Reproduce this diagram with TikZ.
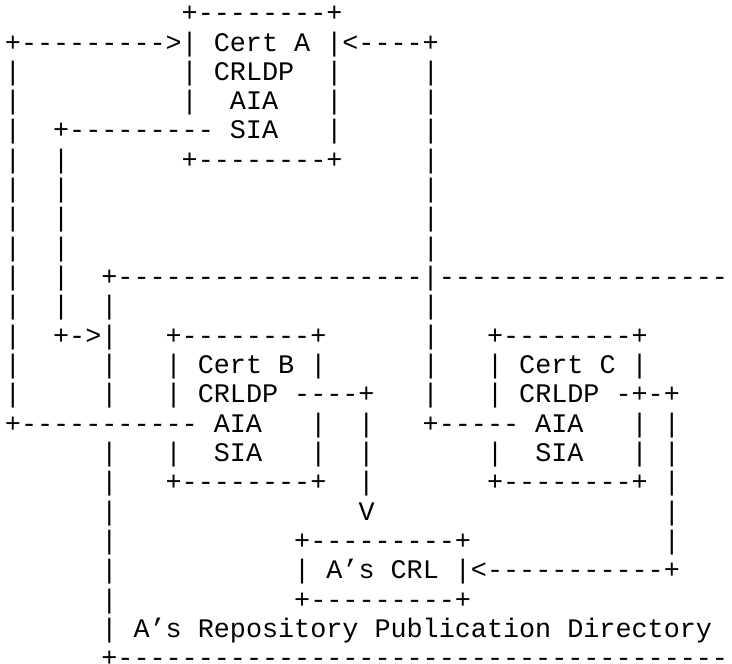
\documentclass[tikz,border=0pt]{standalone}
\usepackage{fontspec}
\setmonofont{Liberation Mono}
\tikzset{asciirow/.style={anchor=base west, inner sep=0pt, outer sep=0pt,
  font=\ttfamily\fontsize{26.78pt}{29.3pt}\selectfont}}
\newcommand\txtrow[3]{\node[asciirow] (#1) at (4.97pt, {642.3pt-29.32pt*#2}) {#3};}
\begin{document}
\begin{tikzpicture}
\useasboundingbox (0,0) rectangle (732pt,664pt);
\fill[white] (0,0) rectangle (732pt,664pt);
\clip (0,0) rectangle (732pt,664pt);
\txtrow{r0}{0}{~~~~~~~~~~~+--------+}
\txtrow{r1}{1}{+--------->|~Cert~A~|<----+}
\txtrow{r2}{2}{|~~~~~~~~~~|~CRLDP~~|~~~~~|}
\txtrow{r3}{3}{|~~~~~~~~~~|~~AIA~~~|~~~~~|}
\txtrow{r4}{4}{|~~+---------~SIA~~~|~~~~~|}
\txtrow{r5}{5}{|~~|~~~~~~~+--------+~~~~~|}
\txtrow{r6}{6}{|~~|~~~~~~~~~~~~~~~~~~~~~~|}
\txtrow{r7}{7}{|~~|~~~~~~~~~~~~~~~~~~~~~~|}
\txtrow{r8}{8}{|~~|~~~~~~~~~~~~~~~~~~~~~~|}
\txtrow{r9}{9}{|~~|~~+-------------------|--------------------}
\txtrow{r10}{10}{|~~|~~|~~~~~~~~~~~~~~~~~~~|}
\txtrow{r11}{11}{|~~+->|~~~+--------+~~~~~~|~~~+--------+}
\txtrow{r12}{12}{|~~~~~|~~~|~Cert~B~|~~~~~~|~~~|~Cert~C~|}
\txtrow{r13}{13}{|~~~~~|~~~|~CRLDP~----+~~~|~~~|~CRLDP~-+-+}
\txtrow{r14}{14}{+-----------~AIA~~~|~~|~~~+-----~AIA~~~|~|}
\txtrow{r15}{15}{~~~~~~|~~~|~~SIA~~~|~~|~~~~~~~|~~SIA~~~|~|}
\txtrow{r16}{16}{~~~~~~|~~~+--------+~~|~~~~~~~+--------+~|}
\txtrow{r17}{17}{~~~~~~|~~~~~~~~~~~~~~~V~~~~~~~~~~~~~~~~~~|}
\txtrow{r18}{18}{~~~~~~|~~~~~~~~~~~+---------+~~~~~~~~~~~~|}
\txtrow{r19}{19}{~~~~~~|~~~~~~~~~~~|~A’s~CRL~|<-----------+}
\txtrow{r20}{20}{~~~~~~|~~~~~~~~~~~+---------+}
\txtrow{r21}{21}{~~~~~~|~A’s~Repository~Publication~Directory}
\txtrow{r22}{22}{~~~~~~+----------------------------------------}
\end{tikzpicture}
\end{document}
